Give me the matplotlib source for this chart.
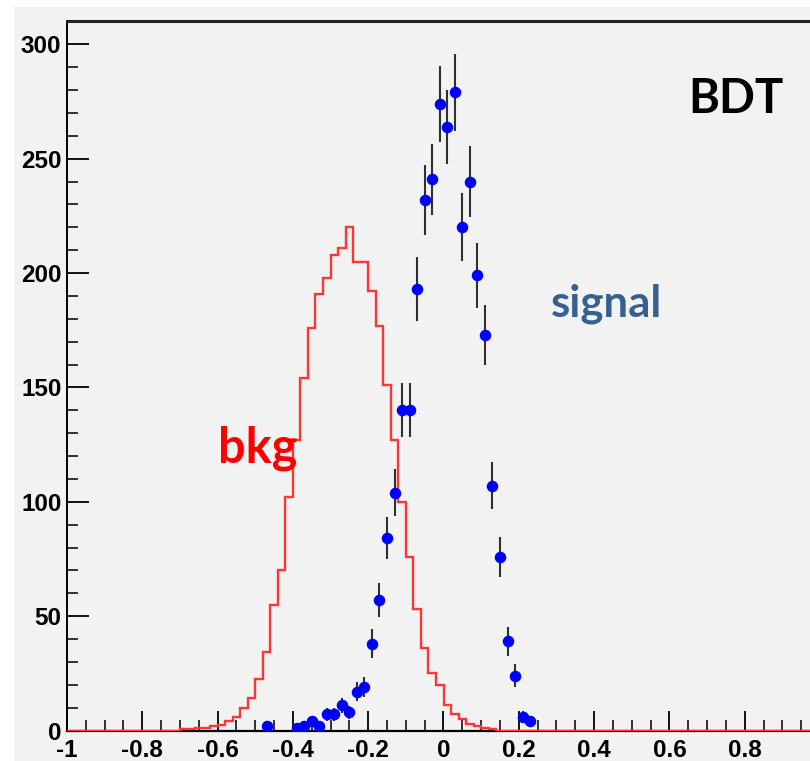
import matplotlib
matplotlib.use("Agg")
import matplotlib.pyplot as plt
from matplotlib.ticker import MultipleLocator
import numpy as np

# background histogram: 0.02 wide bins, non-empty from -0.70 up to 0.14
bin_width = 0.02
bkg_start = -0.70
bkg_counts = [0.5, 0.5, 1, 1, 2, 2.5, 4.3, 6, 10, 14,
              22.5, 34.5, 55, 70, 102, 127, 154, 176, 191, 198,
              208, 211, 220, 205, 205, 192, 177, 151, 127, 100,
              76, 53, 36, 25, 20, 11, 7, 5, 3, 2,
              1, 0.6]

# signal sample, bin centres and entries (empty bins not drawn)
sig_x = [-0.47, -0.39, -0.37, -0.35, -0.33, -0.31, -0.29, -0.27, -0.25, -0.23,
         -0.21, -0.19, -0.17, -0.15, -0.13, -0.11, -0.09, -0.07, -0.05, -0.03,
         -0.01, 0.01, 0.03, 0.05, 0.07, 0.09, 0.11, 0.13, 0.15, 0.17,
         0.19, 0.21, 0.23]
sig_n = [2, 1, 2, 4, 2, 7, 7, 11, 8, 17,
         19, 38, 57, 84, 104, 140, 140, 193, 232, 241,
         274, 264, 279, 220, 240, 199, 173, 107, 76, 39,
         24, 6, 4]

xtick_labels = ["-1", "-0.8", "-0.6", "-0.4", "-0.2", "0", "0.2", "0.4", "0.6", "0.8"]

# full -1..1 range, zeros outside the filled region
edges = np.linspace(-1, 1, 101)
bkg = np.zeros(100)
i0 = int(round((bkg_start + 1) / bin_width))
bkg[i0:i0 + len(bkg_counts)] = bkg_counts

W, H = 810, 761
fig = plt.figure(figsize=(W / 100, H / 100), dpi=100)
fig.patch.set_facecolor("white")
fig.patches.append(plt.Rectangle((14 / W, 0), 1, 1 - 7 / H, transform=fig.transFigure,
                                 facecolor="#f2f2f2", edgecolor="none", zorder=-10))

# frame runs a little past the right edge of the canvas
left, right, top, bottom = 67, 820, 21, 730.5
ax = fig.add_axes([left / W, (H - bottom) / H, (right - left) / W, (bottom - top) / H])
ax.set_facecolor("#f2f2f2")
ax.set_xlim(-1, 1)
ax.set_ylim(0, 310.2)

ax.stairs(bkg, edges, color="#ff3535", lw=1.7, zorder=3)

sig_x = np.array(sig_x)
sig_n = np.array(sig_n, dtype=float)
ax.errorbar(sig_x, sig_n, yerr=np.sqrt(sig_n), fmt="none", ecolor="#303030",
            elinewidth=1.5, capsize=0, zorder=4)
ax.plot(sig_x, sig_n, "o", color="#0000ff", ms=7.3, mec="#0000ff", zorder=5)

ax.spines["right"].set_visible(False)
ax.spines["top"].set_linewidth(2.2)
ax.spines["top"].set_color("#222222")
ax.spines["left"].set_linewidth(1.4)
ax.spines["bottom"].set_linewidth(1.6)

ax.xaxis.set_minor_locator(MultipleLocator(0.05))
ax.yaxis.set_major_locator(MultipleLocator(50))
ax.yaxis.set_minor_locator(MultipleLocator(10))
ax.tick_params(which="both", direction="in", color="#111111")
ax.tick_params(axis="x", which="major", length=14.5, width=1.4, pad=6)
ax.tick_params(axis="x", which="minor", length=8, width=1.2)
ax.tick_params(axis="y", which="major", length=16, width=1.4, pad=4)
ax.tick_params(axis="y", which="minor", length=8, width=1.2)

ax.set_xticks(np.arange(-1, 0.81, 0.2))
ax.set_xticklabels(xtick_labels)
for lab in ax.get_xticklabels() + ax.get_yticklabels():
    lab.set_fontfamily("Liberation Sans")
    lab.set_fontweight("bold")
    lab.set_fontsize(17.5)

ax.text(0.651, 270, "BDT", fontsize=34, fontweight="bold", family="Lato",
        color="black", va="baseline")
ax.text(0.284, 181, "signal", fontsize=31.5, fontweight="bold", family="Lato",
        color="#36608f", va="baseline")
ax.text(-0.598, 117, "bkg", fontsize=35, fontweight="bold", family="Lato",
        color="#ff0000", va="baseline")

fig.savefig("out.png", dpi=100)
